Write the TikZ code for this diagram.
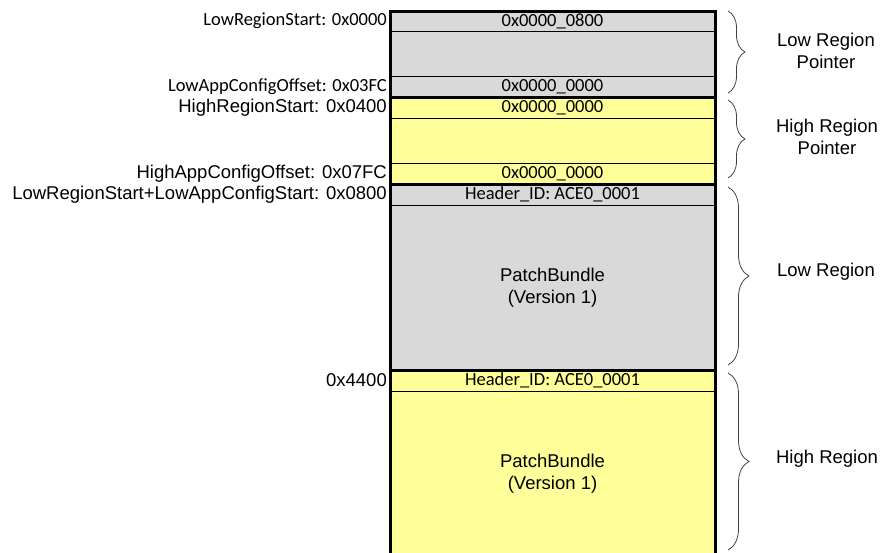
\documentclass[tikz,border=0pt]{standalone}
\usepackage{fontspec}
\setmainfont{Liberation Sans}
\newfontfamily\calibrifont{Carlito}
\usepackage{tikz}
\usetikzlibrary{positioning,decorations.pathreplacing}
\definecolor{MemGray}{HTML}{D9D9D9}
\definecolor{MemYellow}{HTML}{FFFF99}
\definecolor{MemBrace}{HTML}{404040}

\begin{document}
\begin{tikzpicture}[x=1pt,y=-1pt,node distance=0pt]
  \tikzstyle{cell}=[draw,line width=0.8pt,minimum width=325pt,inner sep=0pt,
    outer sep=0pt,align=center]
  \tikzstyle{cal}=[font=\calibrifont\fontsize{18.5}{22}\selectfont]
  \tikzstyle{ari}=[font=\rmfamily\fontsize{18.5}{22}\selectfont]
  \tikzstyle{addr}=[inner sep=0pt]
  \tikzstyle{sep}=[line width=3pt]
  \tikzstyle{brc}=[decorate,decoration={brace,amplitude=#1},line width=0.8pt,
    color=MemBrace]
  \useasboundingbox (0,0) rectangle (881,552);
  \clip (0,0) rectangle (881,552);
  \node[cell,cal,fill=MemGray,minimum height=20pt] (lp1) at (552.5,21) {0x0000\_0800};
  \node[cell,fill=MemGray,minimum height=45pt,below=of lp1] (lp2) {};
  \node[cell,cal,fill=MemGray,minimum height=21pt,below=of lp2] (lp3) {0x0000\_0000};
  \node[cell,cal,fill=MemYellow,minimum height=21pt,below=of lp3] (hp1) {0x0000\_0000};
  \node[cell,fill=MemYellow,minimum height=45pt,below=of hp1] (hp2) {};
  \node[cell,cal,fill=MemYellow,minimum height=21pt,below=of hp2] (hp3) {0x0000\_0000};
  \node[cell,cal,fill=MemGray,minimum height=21pt,below=of hp3] (lr1) {Header\_ID: ACE0\_0001};
  \node[cell,ari,fill=MemGray,minimum height=165pt,below=of lr1] (lr2) {PatchBundle\\(Version 1)};
  \node[cell,cal,fill=MemYellow,minimum height=21pt,below=of lr2] (hr1) {Header\_ID: ACE0\_0001};
  \node[cell,ari,fill=MemYellow,minimum height=165pt,below=of hr1] (hr2) {PatchBundle\\(Version 1)};
  \draw[sep] (lp1.north west) rectangle (hr2.south east);
  \draw[sep] (lp3.south west)--(lp3.south east);
  \draw[sep] (hp3.south west)--(hp3.south east);
  \draw[sep] (lr2.south west)--(lr2.south east);
  \node[addr,cal,left=3pt of lp1] (aLowStart) {LowRegionStart: 0x0000};
  \node[addr,cal,left=3pt of lp3] (aLowOff) {LowAppConfigOffset: 0x03FC};
  \node[addr,ari,left=3pt of hp1] (aHighStart) {HighRegionStart: 0x0400};
  \node[addr,ari,left=3pt of hp3] (aHighOff) {HighAppConfigOffset: 0x07FC};
  \node[addr,ari,left=3pt of lr1] (aLowHdr) {LowRegionStart+LowAppConfigStart: 0x0800};
  \node[addr,ari,left=3pt of hr1] (aHighHdr) {0x4400};
  \draw[brc=17pt] ([xshift=13pt]lp1.north east)--([xshift=13pt,yshift=4pt]lp3.south east);
  \draw[brc=17pt] ([xshift=13pt,yshift=-3pt]hp1.north east)--([xshift=13pt,yshift=6pt]hp3.south east);
  \draw[brc=21pt] ([xshift=13pt,yshift=-3pt]lr1.north east)--([xshift=13pt,yshift=5pt]lr2.south east);
  \draw[brc=21pt] ([xshift=13pt,yshift=-3pt]hr1.north east)--([xshift=13pt,yshift=6pt]hr2.south east);
  \node[ari,align=center] (tLowPtr) at (826,50.5) {Low Region\\Pointer};
  \node[ari,align=center] (tHighPtr) at (827,137) {High Region\\Pointer};
  \node[ari] (tLowReg) at (826,272) {Low Region};
  \node[ari] (tHighReg) at (827,459) {High Region};
\end{tikzpicture}
\end{document}
